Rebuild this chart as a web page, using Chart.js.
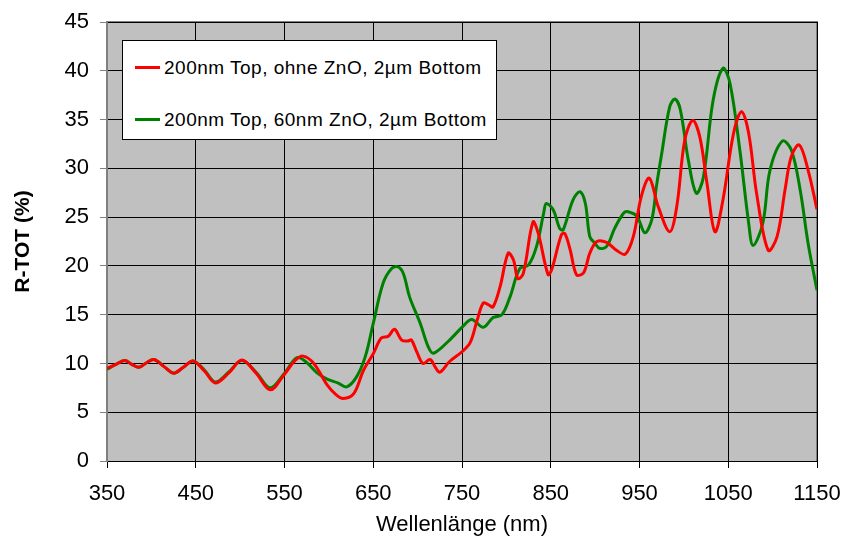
<!DOCTYPE html>
<html lang="de">
<head>
<meta charset="UTF-8">
<title>R-TOT</title>
<script src="https://cdn.jsdelivr.net/npm/chart.js@4/dist/chart.umd.min.js"></script>
<style>
  * { box-sizing: border-box; margin: 0; padding: 0; }
  body { background: #fff; font-family: "Liberation Sans", Arial, sans-serif; }
  .wrap { position: relative; width: 846px; height: 538px; }
  .legend { position: absolute; left: 122px; top: 40px; width: 375px; height: 100px; background: #fff; border: 1px solid #000; font-size: 19px; letter-spacing: 0.5px; color: #000; }
  .legend div { position: absolute; left: 12px; height: 22px; line-height: 22px; white-space: nowrap; }
  .legend span { display: inline-block; width: 25px; height: 3px; vertical-align: middle; margin-right: 4px; position: relative; top: -1px; }
</style>
</head>
<body>
<div class="wrap">
  <canvas id="c" width="846" height="538"></canvas>
  <div class="legend" id="legend"></div>
</div>
<script>
// Wellenlänge (nm) / R-TOT (%) per Messkurve
const redLabel = '200nm Top, ohne ZnO, 2µm Bottom'
const redNm = [350, 360, 370, 378, 386, 395, 403, 414, 425, 436, 447, 460, 472, 487, 502, 518, 534, 550, 562, 571, 583, 598, 608, 616, 628, 639, 650, 659, 667, 674, 682, 689, 693, 699, 706, 714, 720, 725, 736, 750, 759, 767, 774, 780, 785, 793, 802, 808, 813, 819, 830, 836, 847, 851, 862, 866, 872, 879, 887, 894, 902, 913, 924, 934, 943, 952, 961, 971, 984, 992, 1001, 1010, 1018, 1026, 1035, 1044, 1056, 1065, 1073, 1082, 1095, 1105, 1114, 1121, 1130, 1140, 1150]
const redVal = [9.5, 9.9, 10.3, 9.9, 9.6, 10.1, 10.4, 9.7, 9.0, 9.6, 10.25, 9.2, 8.0, 9.0, 10.35, 9.0, 7.3, 8.9, 10.3, 10.75, 10.0, 7.8, 6.8, 6.4, 6.9, 9.3, 11.0, 12.6, 12.8, 13.5, 12.4, 12.3, 12.4, 11.2, 10.0, 10.4, 9.6, 9.1, 10.2, 11.2, 12.1, 14.4, 16.2, 16.0, 15.8, 17.9, 21.3, 20.6, 18.7, 19.2, 24.5, 23.3, 19.1, 19.6, 23.2, 23.3, 21.6, 19.1, 19.3, 21.3, 22.5, 22.4, 21.6, 21.2, 23.0, 27.1, 29.0, 26.1, 23.5, 26.1, 32.9, 34.9, 33.2, 28.5, 23.5, 26.75, 33.6, 35.8, 33.6, 27.4, 21.6, 23.0, 27.8, 31.2, 32.4, 29.8, 25.8]

const greenLabel = '200nm Top, 60nm ZnO, 2µm Bottom'
const greenNm = [350, 360, 370, 378, 386, 395, 403, 414, 425, 436, 447, 460, 472, 487, 502, 518, 534, 550, 564, 575, 587, 598, 610, 620, 631, 641, 650, 661, 671, 678, 684, 691, 703, 712, 718, 736, 751, 761, 774, 785, 795, 804, 815, 825, 834, 842, 845, 853, 860, 864, 875, 883, 889, 894, 900, 905, 913, 922, 932, 937, 947, 956, 964, 969, 975, 984, 990, 996, 1005, 1014, 1022, 1033, 1044, 1052, 1063, 1073, 1078, 1089, 1097, 1111, 1121, 1131, 1140, 1150]
const greenVal = [9.4, 9.9, 10.3, 9.9, 9.6, 10.1, 10.4, 9.7, 9.0, 9.6, 10.25, 9.3, 8.1, 9.1, 10.3, 9.1, 7.5, 9.0, 10.6, 10.1, 9.0, 8.4, 8.0, 7.6, 8.6, 10.7, 14.1, 18.2, 19.75, 19.9, 19.2, 16.8, 14.1, 11.7, 11.05, 12.4, 13.8, 14.5, 13.7, 14.7, 15.0, 16.8, 19.7, 20.1, 22.0, 25.4, 26.4, 25.7, 23.85, 23.7, 26.75, 27.6, 26.4, 23.0, 22.3, 21.8, 22.0, 23.85, 25.4, 25.55, 25.1, 23.4, 24.8, 28.1, 31.5, 36.3, 37.1, 36.0, 30.85, 27.45, 29.1, 37.0, 40.25, 38.7, 31.9, 24.4, 22.1, 24.4, 29.8, 32.8, 31.9, 27.8, 22.3, 17.5]

const xTicks = [350, 450, 550, 650, 750, 850, 950, 1050, 1150]
const yTicks = [0, 5, 10, 15, 20, 25, 30, 35, 40, 45]

const toPoints = (xs, ys) => xs.map((x, i) => ({ x, y: ys[i] }))

const plotBg = {
  id: 'plotBg',
  beforeDraw(chart) {
    const { ctx, chartArea: a } = chart
    ctx.save()
    ctx.fillStyle = '#c0c0c0'
    ctx.fillRect(a.left, a.top, a.right - a.left, a.bottom - a.top)
    ctx.strokeStyle = '#808080'
    ctx.lineWidth = 2
    ctx.beginPath()
    ctx.moveTo(a.left, a.top)
    ctx.lineTo(a.right, a.top)
    ctx.lineTo(a.right, a.bottom)
    ctx.stroke()
    ctx.restore()
  }
}

const family = '"Liberation Sans", Arial, sans-serif'
const tickFont = { family, size: 22 }

const datasets = [
  { label: redLabel, data: toPoints(redNm, redVal), borderColor: '#ff0000' },
  { label: greenLabel, data: toPoints(greenNm, greenVal), borderColor: '#008000' }
].map(d => ({ ...d, borderWidth: 3, pointRadius: 0, tension: 0.35, fill: false }))

new Chart(document.getElementById('c'), {
  type: 'line',
  data: { datasets },
  options: {
    responsive: false,
    animation: false,
    layout: { padding: { top: 22, right: 29, left: 0, bottom: 0 } },
    plugins: { legend: { display: false }, tooltip: { enabled: false } },
    scales: {
      x: {
        type: 'linear', min: 350, max: 1150,
        afterBuildTicks: s => { s.ticks = xTicks.map(v => ({ value: v })) },
        afterFit: s => { s.height = 77; s.paddingLeft = 0; s.paddingRight = 0 },
        grid: { color: '#000', lineWidth: 1, tickLength: 7, tickColor: '#000' },
        border: { color: '#000', width: 1 },
        ticks: { color: '#000', font: tickFont, padding: 13, maxRotation: 0, callback: v => String(v) },
        title: { display: true, text: 'Wellenlänge (nm)', color: '#000', font: { family, size: 22 }, padding: { top: 0, bottom: 0 } }
      },
      y: {
        min: 0, max: 45,
        afterBuildTicks: s => { s.ticks = yTicks.map(v => ({ value: v })) },
        afterFit: s => { s.width = 107; s.paddingTop = 0; s.paddingBottom = 0 },
        grid: { color: '#000', lineWidth: 1, tickLength: 7, tickColor: '#808080' },
        border: { color: '#808080', width: 2 },
        ticks: { color: '#000', font: tickFont, padding: 11, callback: v => String(v) },
        title: { display: true, text: 'R-TOT (%)', color: '#000', font: { family, size: 21, weight: 'bold' }, padding: { top: 11, bottom: 0 } }
      }
    }
  },
  plugins: [plotBg]
})

const legend = document.getElementById('legend')
legend.innerHTML = datasets.map((d, i) =>
  `<div style="top:${16 + i * 52}px"><span style="background:${d.borderColor}"></span>${d.label}</div>`
).join('')
</script>
</body>
</html>
